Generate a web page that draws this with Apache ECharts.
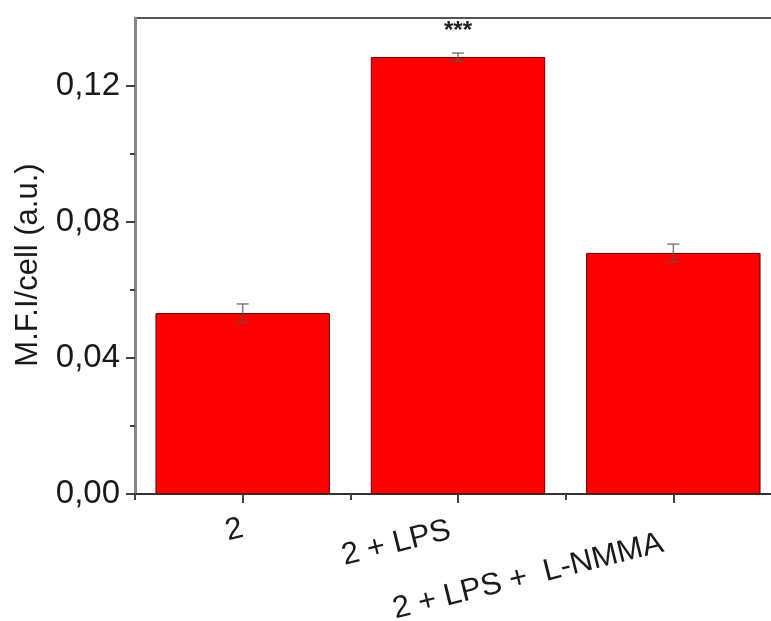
<!DOCTYPE html>
<html>
<head>
<meta charset="utf-8">
<script src="https://cdn.jsdelivr.net/npm/echarts@6/dist/echarts.min.js"></script>
<style>
  html, body { margin: 0; padding: 0; background: #ffffff; overflow: hidden; }
  /* the plot frame runs past the right edge of the window */
  #chart { width: 800px; height: 621px; }
</style>
</head>
<body>
<div id="chart"></div>
<script>
// Mean fluorescence intensity per cell for each treatment group
const categories = ['2', '2 + LPS', '2 + LPS +  L-NMMA'];
const meanValues = [0.0532, 0.1285, 0.0709];
const errValues = [0.0027, 0.0012, 0.0026];
const sigMarks = ['', '***', ''];
const yMajorTicks = [0, 0.04, 0.08, 0.12];
const yMinorTicks = [0.02, 0.06, 0.10];

const FONT = '"Liberation Sans", Arial, sans-serif';

// rich-text style per category so the rotated labels stagger downward
const labelStyleKeys = ['c0', 'c1', 'c2'];

const chart = echarts.init(document.getElementById('chart'), null, { renderer: 'canvas' });

const fmt = v => v.toFixed(2).replace('.', ',');

const errData = meanValues.map((m, i) => [i, m - errValues[i], m + errValues[i]]);

const labelFont = { color: '#1a1a1a', fontSize: 31, fontFamily: FONT };

chart.setOption({
  backgroundColor: '#ffffff',
  animation: false,
  grid: {
    left: 135, top: 18, width: 646, height: 476,
    outerBoundsMode: 'none',
    containLabel: false,
    show: true, borderColor: '#555', borderWidth: 2, backgroundColor: 'transparent'
  },
  xAxis: [
    {
      type: 'category',
      data: categories,
      position: 'bottom',
      axisLine: { show: true, lineStyle: { color: '#333', width: 2 } },
      axisTick: { show: true, alignWithLabel: true, length: 9, lineStyle: { color: '#444', width: 2 } },
      axisLabel: {
        interval: 0, rotate: 14, margin: 34,
        color: '#1a1a1a', fontSize: 31, fontFamily: FONT,
        formatter: (v, i) => '{' + labelStyleKeys[i] + '|' + v + '}',
        rich: {
          c0: Object.assign({}, labelFont),
          c1: Object.assign({ padding: [0, 8, 0, 0] }, labelFont),
          c2: Object.assign({ padding: [24, 14, 0, 0] }, labelFont)
        }
      },
      splitLine: { show: false }
    },
    {
      type: 'category',
      data: categories,
      position: 'bottom',
      axisLine: { show: false },
      axisTick: { show: true, length: 6, lineStyle: { color: '#444', width: 2 } },
      axisLabel: { show: false },
      splitLine: { show: false }
    }
  ],
  yAxis: [
    {
      type: 'value',
      min: 0, max: 0.14,
      name: 'M.F.I/cell (a.u.)',
      nameLocation: 'middle',
      nameGap: 91,
      nameTextStyle: { color: '#1a1a1a', fontSize: 31, fontFamily: FONT, padding: [0, 18, 0, 0] },
      axisLine: { show: true, lineStyle: { color: '#888', width: 3 } },
      axisTick: { show: true, customValues: yMajorTicks, length: 9, lineStyle: { color: '#444', width: 2 } },
      axisLabel: {
        customValues: yMajorTicks, margin: 15,
        color: '#1a1a1a', fontSize: 33, fontFamily: FONT,
        formatter: fmt
      },
      splitLine: { show: false }
    },
    {
      type: 'value',
      min: 0, max: 0.14,
      position: 'left',
      axisLine: { show: false },
      axisTick: { show: true, customValues: yMinorTicks, length: 5, lineStyle: { color: '#444', width: 2 } },
      axisLabel: { show: false },
      splitLine: { show: false }
    }
  ],
  series: [
    {
      type: 'bar',
      xAxisIndex: 0,
      yAxisIndex: 0,
      data: meanValues,
      barCategoryGap: '19%',
      itemStyle: { color: '#ff0000', borderColor: '#6a0000', borderWidth: 1 },
      label: {
        show: true,
        position: 'top',
        distance: 14,
        color: '#222',
        fontSize: 24,
        fontWeight: 'bold',
        fontFamily: FONT,
        formatter: p => sigMarks[p.dataIndex]
      },
      z: 2
    },
    {
      type: 'custom',
      xAxisIndex: 0,
      yAxisIndex: 0,
      data: errData,
      encode: { x: 0, y: [1, 2] },
      renderItem: function (params, api) {
        const x = api.value(0);
        const lo = api.coord([x, api.value(1)]);
        const hi = api.coord([x, api.value(2)]);
        const half = 6;
        const style = { stroke: '#555', lineWidth: 1.5, opacity: 0.75 };
        return {
          type: 'group',
          children: [
            { type: 'line', shape: { x1: hi[0], y1: hi[1], x2: lo[0], y2: lo[1] }, style },
            { type: 'line', shape: { x1: hi[0] - half, y1: hi[1], x2: hi[0] + half, y2: hi[1] }, style },
            { type: 'line', shape: { x1: lo[0] - half, y1: lo[1], x2: lo[0] + half, y2: lo[1] }, style }
          ]
        };
      },
      z: 3
    }
  ]
});
</script>
</body>
</html>
